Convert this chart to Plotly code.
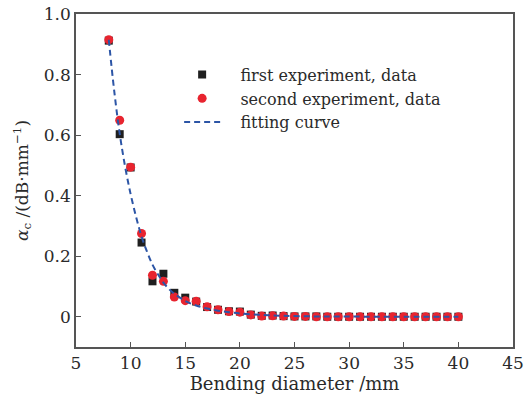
import plotly.graph_objects as go

diameter = list(range(8, 41))
first_exp = [0.912, 0.603, 0.493, 0.245, 0.117, 0.142, 0.079, 0.063, 0.050, 0.032, 0.023, 0.018, 0.017,
             0.007, 0.003, 0.004, 0.002, 0.001, 0.001, 0.001, 0.0, 0.0, 0.0, 0.0, 0.0, 0.0, 0.0,
             0.0, 0.0, 0.0, 0.0, 0.0, 0.0]
second_exp = [0.915, 0.649, 0.494, 0.275, 0.137, 0.117, 0.065, 0.053, 0.051, 0.033, 0.023, 0.017, 0.015,
              0.006, 0.002, 0.003, 0.002, 0.001, 0.001, 0.0, 0.0, 0.0, 0.0, 0.0, 0.0, 0.0, 0.0,
              0.0, 0.0, 0.0, 0.0, 0.0, 0.0]
fit_x = [8, 8.5, 9, 9.5, 10, 10.5, 11, 11.5, 12, 12.5, 13, 13.5, 14, 15, 16, 17, 18, 19, 20, 22, 24, 27, 30, 35, 40]
fit_y = [0.915, 0.745, 0.605, 0.495, 0.405, 0.33, 0.265, 0.215, 0.172, 0.14, 0.113, 0.092, 0.076, 0.052,
         0.037, 0.027, 0.02, 0.015, 0.011, 0.006, 0.003, 0.001, 0.0005, 0.0, 0.0]

FONT = "DejaVu Serif"
PAD = "\u00a0\u00a0\u00a0"

fig = go.Figure()
fig.add_trace(go.Scatter(x=diameter, y=first_exp, mode="markers", name=PAD + "first experiment, data",
                         marker=dict(symbol="square", size=8, color="#1f1f1f")))
fig.add_trace(go.Scatter(x=diameter, y=second_exp, mode="markers", name=PAD + "second experiment, data",
                         marker=dict(symbol="circle", size=9, color="#e8242f")))
fig.add_trace(go.Scatter(x=fit_x, y=fit_y, mode="lines", name=PAD + "fitting curve", line_shape="spline",
                         line=dict(color="#2c55a6", width=2, dash="6px,4px")))

axis_common = dict(showline=True, linecolor="#555555", linewidth=1.5, mirror=True, ticks="inside",
                   ticklen=5, tickcolor="#555555", showgrid=False, zeroline=False, automargin=False,
                   ticklabeloverflow="allow",
                   tickfont=dict(family=FONT, size=17, color="#2a2a2a"))
fig.update_xaxes(range=[5, 45], dtick=5, tick0=5,
                 title=dict(text="Bending diameter /mm", font=dict(family=FONT, size=18, color="#2a2a2a"),
                            standoff=2), **axis_common)
fig.update_yaxes(range=[-0.1, 1.0], tickvals=[0, 0.2, 0.4, 0.6, 0.8, 1.0],
                 ticktext=["0", "0.2", "0.4", "0.6", "0.8", "1.0"],
                 title=dict(text="<i>α</i><sub>c</sub> /(dB·mm<sup>−1</sup>)",
                            font=dict(family=FONT, size=17, color="#2a2a2a"), standoff=11),
                 **axis_common)
fig.update_layout(
    width=530, height=402, margin=dict(l=76, r=17, t=14, b=55),
    paper_bgcolor="white", plot_bgcolor="white",
    legend=dict(x=0.236, y=0.869, xanchor="left", yanchor="top", bgcolor="rgba(0,0,0,0)",
                font=dict(family=FONT, size=16, color="#2a2a2a"), tracegroupgap=0, itemwidth=36),
    showlegend=True,
)
fig.write_html("out.html", config={"displayModeBar": False},
               post_script="document.body.style.margin='0';")
